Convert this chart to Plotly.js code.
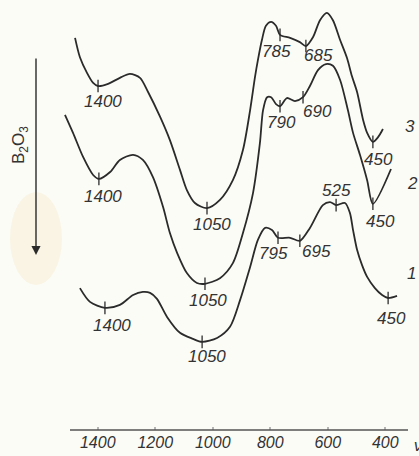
<!DOCTYPE html>
<html>
<head>
<meta charset="utf-8">
<script src="https://cdn.plot.ly/plotly-3.0.1.min.js"></script>
<style>
html,body{margin:0;padding:0;background:#fcfcf7;}
#chart{width:419px;height:456px;}
</style>
</head>
<body>
<div id="chart"></div>
<script>
// Wavenumbers (cm^-1) and relative transmittance (offset, arbitrary %)
const curve1Nu = [1462,1427,1375,1323,1277,1243,1218,1194,1159,1114,1069,1037,985,940,905,870,843,818,794,773,731,697,662,617,592,571,540,523,512,498,481,463,436,411,390,359];
const curve1T  = [33.0,29.8,28.4,29.1,31.4,32.1,31.9,30.5,26.3,22.6,21.2,20.5,21.4,24.0,30.2,37.9,44.2,47.0,46.5,44.7,44.7,44.0,47.0,52.3,53.0,52.3,52.8,50.5,46.5,41.9,38.4,35.6,33.0,31.4,30.7,31.2];

const curve2Nu = [1514,1486,1451,1416,1396,1357,1323,1277,1243,1208,1173,1149,1124,1090,1055,1027,975,930,895,860,836,825,811,797,780,766,742,714,686,662,634,606,582,557,530,512,488,463,443,380];
const curve2T  = [73.3,69.1,63.5,59.3,58.4,60.0,62.8,64.0,62.8,58.8,51.9,45.8,41.2,36.5,34.2,34.0,35.3,38.8,45.8,55.1,66.7,74.4,77.4,77.4,75.8,75.3,77.2,76.5,77.4,80.0,83.7,85.1,84.7,81.4,74.4,69.1,64.0,58.1,52.6,60.7];

const curve3Nu = [1479,1462,1437,1416,1399,1364,1323,1288,1253,1225,1183,1149,1114,1090,1062,1020,975,930,895,870,853,843,829,815,797,780,766,731,697,676,651,627,603,582,557,533,516,498,477,463,443,425,408];
const curve3T  = [91.2,86.7,83.0,80.7,80.0,80.5,81.9,82.8,81.9,78.6,72.8,67.4,60.5,55.8,52.8,51.6,53.5,58.1,65.1,74.4,82.1,86.0,90.7,94.0,94.9,94.0,91.9,91.2,90.2,89.3,91.4,95.3,97.0,95.3,90.7,86.5,82.3,78.6,72.1,69.1,67.0,68.1,70.0];

// band marks (small ticks on the curves)
const marks1Nu = [1375,1037,773,697,571,390];
const marks1T  = [28.4,20.5,44.7,44.0,52.3,30.7];
const marks2Nu = [1396,1027,766,686,443];
const marks2T  = [58.4,34.0,75.3,77.4,52.6];
const marks3Nu = [1399,1020,766,676,443];
const marks3T  = [80.0,51.6,91.9,89.3,67.0];

// band labels
const labels1Text = ['1400','1050','795','695','525','450'];
const labels1Nu   = [1351,1021,789,638,571,378];
const labels1T    = [24.2,17.0,41.1,41.5,55.8,26.0];
const labels2Text = ['1400','1050','790','690','450'];
const labels2Nu   = [1381,1015,760,636,418];
const labels2T    = [54.4,30.2,71.5,74.0,48.4];
const labels3Text = ['1400','1050','785','685','450'];
const labels3Nu   = [1381,1004,778,633,424];
const labels3T    = [76.3,47.7,88.0,87.2,63.0];

// curve numbers
const curveNames = ['1','2','3'];
const curveNameNu = [307,304,314];
const curveNameT  = [36.5,57.4,70.5];

// axis ticks
const tickVals = [1400,1200,1000,800,600,400];
const tickText = ['1400','1200','1000','800','600','400'];

const ink = '#2b2b2b';
const font = {family:'Liberation Sans, Arial, sans-serif', size:17, color:'#333', style:'italic'};
const tickFont = {family:'Liberation Sans, Arial, sans-serif', size:16, color:'#333', style:'italic'};

function lineTrace(x,y){
  return {x:x,y:y,type:'scatter',mode:'lines',line:{color:ink,width:1.8,shape:'spline',smoothing:0.8},hoverinfo:'skip',showlegend:false};
}
function markTrace(x,y){
  return {x:x,y:y,type:'scatter',mode:'markers',marker:{symbol:'line-ns-open',size:9,color:ink,line:{color:ink,width:1.3}},hoverinfo:'skip',showlegend:false,cliponaxis:false};
}

const data = [
  lineTrace(curve1Nu,curve1T), lineTrace(curve2Nu,curve2T), lineTrace(curve3Nu,curve3T),
  markTrace(marks1Nu,marks1T), markTrace(marks2Nu,marks2T), markTrace(marks3Nu,marks3T)
];

const annotations = [];
function addLabels(texts,xs,ys){
  texts.forEach((t,i)=>annotations.push({x:xs[i],y:ys[i],xref:'x',yref:'y',text:t,showarrow:false,font:font,xanchor:'center',yanchor:'middle'}));
}
addLabels(labels1Text,labels1Nu,labels1T);
addLabels(labels2Text,labels2Nu,labels2T);
addLabels(labels3Text,labels3Nu,labels3T);
addLabels(curveNames,curveNameNu,curveNameT);

// B2O3 arrow
annotations.push({x:36/419,y:(430-255)/430,xref:'paper',yref:'paper',text:'',showarrow:true,
  ax:0,ay:-198,axref:'pixel',ayref:'pixel',arrowhead:2,arrowsize:1.3,arrowwidth:1.4,arrowcolor:ink});
annotations.push({x:20/419,y:(430-145)/430,xref:'paper',yref:'paper',text:'B<sub>2</sub>O<sub>3</sub>',textangle:-90,
  showarrow:false,font:{family:'Liberation Sans, Arial, sans-serif',size:17,color:'#333'},xanchor:'center',yanchor:'middle'});
// cut-off axis unit at right edge
annotations.push({x:412/419,y:-14/430,xref:'paper',yref:'paper',text:'ν, см<sup>-1</sup>',showarrow:false,font:tickFont,xanchor:'left',yanchor:'middle'});

const layout = {
  width:419,height:456,
  margin:{l:0,r:0,t:0,b:26},
  paper_bgcolor:'#fcfcf7',plot_bgcolor:'rgba(0,0,0,0)',
  xaxis:{range:[1740,282.6],showgrid:false,zeroline:false,showline:false,
    tickmode:'array',tickvals:tickVals,ticktext:tickText,ticks:'inside',ticklen:3,tickwidth:2,tickcolor:'#b5b5b5',
    tickfont:tickFont,ticklabelstandoff:1,fixedrange:true},
  yaxis:{range:[0,100],visible:false,fixedrange:true},
  showlegend:false,
  annotations:annotations,
  shapes:[
    {type:'circle',xref:'paper',yref:'paper',x0:10/419,x1:62/419,y0:(430-285)/430,y1:(430-192)/430,
      fillcolor:'rgba(247,236,205,0.45)',line:{width:0},layer:'below'},
    {type:'line',xref:'paper',yref:'paper',x0:70/419,x1:408/419,y0:0,y1:0,line:{color:'#555',width:1.3}}
  ]
};

Plotly.newPlot('chart',data,layout,{displayModeBar:false,staticPlot:true});
</script>
</body>
</html>
